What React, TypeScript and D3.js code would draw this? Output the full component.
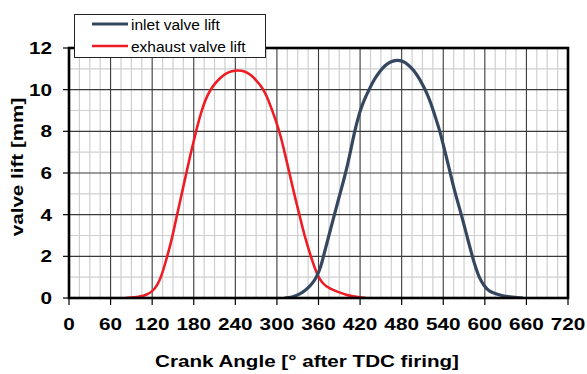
import React from "react";
import * as d3 from "d3";

// Valve lift over one four-stroke cycle (crank angle in degrees after TDC firing)
const exhaustAngle = [82, 95, 105, 112, 120, 127, 133, 140, 148, 155, 162, 169, 176, 183, 190, 197, 204, 211, 218, 226, 235, 244, 253, 262, 270, 278, 285, 291, 298, 305, 311, 318, 325, 332, 340, 349, 355, 360, 365, 372, 381, 390, 400, 410, 419, 428];
const exhaustLift = [0, 0.03, 0.09, 0.17, 0.33, 0.62, 1.05, 1.8, 2.8, 3.85, 4.9, 5.95, 6.98, 7.95, 8.82, 9.5, 9.97, 10.3, 10.55, 10.76, 10.88, 10.92, 10.87, 10.7, 10.45, 10.12, 9.7, 9.2, 8.55, 7.8, 7.0, 6.0, 5.0, 4.05, 3.0, 2.0, 1.42, 1.03, 0.77, 0.55, 0.39, 0.27, 0.16, 0.08, 0.03, 0];

const inletAngle = [311, 322, 333, 340, 347, 353, 358, 363, 367, 375, 383, 391, 399, 406, 412, 419, 426, 433, 440, 448, 456, 464, 473, 481, 489, 497, 504, 510, 516, 522, 528, 535, 542, 549, 556, 566, 574, 582, 587, 592, 599, 607, 617, 626, 640, 655];
const inletLift = [0, 0.05, 0.2, 0.35, 0.56, 0.8, 1.08, 1.5, 1.98, 3.0, 4.0, 5.0, 6.0, 7.02, 7.95, 8.85, 9.5, 10.0, 10.45, 10.85, 11.15, 11.33, 11.41, 11.36, 11.2, 10.93, 10.6, 10.25, 9.85, 9.35, 8.75, 8.0, 7.1, 6.15, 5.2, 4.0, 3.0, 2.0, 1.45, 1.0, 0.6, 0.33, 0.19, 0.11, 0.04, 0];

const angleTicks = [0, 60, 120, 180, 240, 300, 360, 420, 480, 540, 600, 660, 720];
const liftTicks = [0, 2, 4, 6, 8, 10, 12];

const seriesNames = ["inlet valve lift", "exhaust valve lift"];
const INLET = "#35465f";
const EXHAUST = "#ee1c25";

const W = 587;
const H = 374;
const FONT = "'Liberation Sans', Arial, sans-serif";
const STRETCH = 1.22;

export default function App() {
  const x = d3.scaleLinear().domain([0, 720]).range([69, 568]);
  const y = d3.scaleLinear().domain([0, 12]).range([298, 48]);

  const line = d3
    .line<[number, number]>()
    .x((d) => x(d[0]))
    .y((d) => y(d[1]))
    .curve(d3.curveNatural);

  const inletPts = inletAngle.map((a, i) => [a, inletLift[i]] as [number, number]);
  const exhaustPts = exhaustAngle.map((a, i) => [a, exhaustLift[i]] as [number, number]);

  const minorX = d3.range(15, 720, 15).filter((v) => v % 60 !== 0);
  const majorX = angleTicks.filter((v) => v > 0 && v < 720);
  const minorY = d3.range(1, 12, 2);
  const majorY = liftTicks.filter((v) => v > 0 && v < 12);

  const [x0, x1] = x.range();
  const [y0, y1] = y.range();

  return (
    <svg
      width={W}
      height={H}
      style={{ position: "absolute", left: 0, top: 0, background: "#fff" }}
      fontFamily={FONT}
    >
      <rect width={W} height={H} fill="#fff" />
      <defs>
        <clipPath id="plot-area">
          <rect x={x0} y={y1 - 10} width={x1 - x0} height={y0 - y1 + 10} />
        </clipPath>
      </defs>

      {/* minor grid */}
      <g stroke="#cfcfcf" strokeWidth={1.2}>
        {minorX.map((v) => (
          <line key={"mx" + v} x1={x(v)} x2={x(v)} y1={y1} y2={y0} />
        ))}
        {minorY.map((v) => (
          <line key={"my" + v} x1={x0} x2={x1} y1={y(v)} y2={y(v)} />
        ))}
      </g>

      {/* major grid */}
      <g stroke="#3a3a3a" strokeWidth={1.1}>
        {majorX.map((v) => (
          <line key={"Mx" + v} x1={x(v)} x2={x(v)} y1={y1} y2={y0} />
        ))}
        {majorY.map((v) => (
          <line key={"My" + v} x1={x0} x2={x1} y1={y(v)} y2={y(v)} />
        ))}
      </g>

      {/* curves */}
      <g clipPath="url(#plot-area)">
        <path d={line(exhaustPts) ?? ""} fill="none" stroke={EXHAUST} strokeWidth={2.6} strokeLinejoin="round" />
        <path d={line(inletPts) ?? ""} fill="none" stroke={INLET} strokeWidth={3.2} strokeLinejoin="round" />
      </g>

      {/* plot frame */}
      <rect x={x0} y={y1} width={x1 - x0} height={y0 - y1} fill="none" stroke="#000" strokeWidth={2.6} />

      {/* y ticks and labels */}
      <g>
        {liftTicks.map((v) => (
          <g key={"yt" + v}>
            <line x1={x0 - 6} x2={x0} y1={y(v)} y2={y(v)} stroke="#000" strokeWidth={1.2} />
            <text
              transform={`translate(${52},${y(v) + 6}) scale(${STRETCH},1)`}
              textAnchor="end"
              fontSize={17}
              fontWeight="bold"
              fill="#000"
            >
              {v}
            </text>
          </g>
        ))}
      </g>

      {/* x ticks and labels */}
      <g>
        {angleTicks.map((v) => (
          <g key={"xt" + v}>
            <line x1={x(v)} x2={x(v)} y1={y0} y2={y0 + 7} stroke="#000" strokeWidth={1.2} />
            <text
              transform={`translate(${x(v)},${330}) scale(${STRETCH},1)`}
              textAnchor="middle"
              fontSize={17}
              fontWeight="bold"
              fill="#000"
            >
              {v}
            </text>
          </g>
        ))}
      </g>

      {/* axis titles */}
      <text
        transform={`translate(${307},${367}) scale(1.25,1)`}
        textAnchor="middle"
        fontSize={16.5}
        fontWeight="bold"
        fill="#000"
      >
        Crank Angle [° after TDC firing]
      </text>
      <text
        transform={`translate(${23},${(y0 + y1) / 2 - 6}) rotate(-90) scale(1.25,1)`}
        textAnchor="middle"
        fontSize={16.5}
        fontWeight="bold"
        fill="#000"
      >
        valve lift [mm]
      </text>

      {/* legend */}
      <g>
        <rect x={74.5} y={14.5} width={191} height={43} fill="#fff" stroke="#222" strokeWidth={1} />
        {seriesNames.map((name, i) => (
          <g key={name}>
            <line
              x1={92}
              x2={128}
              y1={24 + i * 22}
              y2={24 + i * 22}
              stroke={i === 0 ? INLET : EXHAUST}
              strokeWidth={i === 0 ? 3.2 : 2.6}
            />
            <text x={131} y={24 + i * 22 + 5.5} fontSize={15.5} fill="#000">
              {name}
            </text>
          </g>
        ))}
      </g>
    </svg>
  );
}
